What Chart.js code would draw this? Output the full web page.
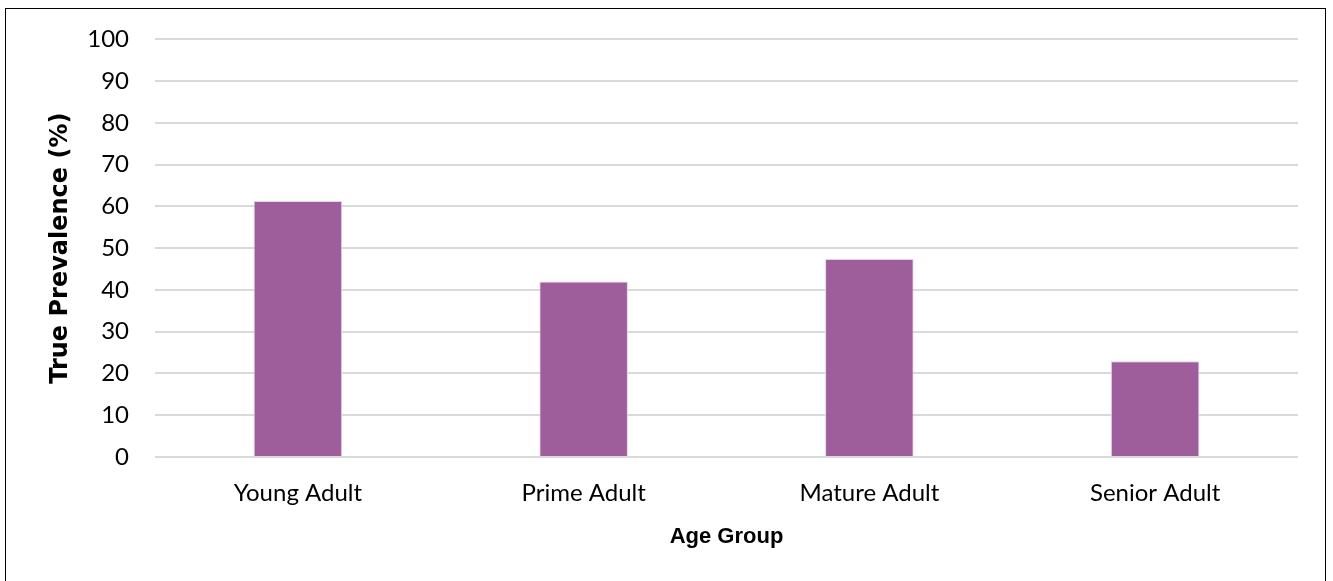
<!DOCTYPE html>
<html>
<head>
<meta charset="utf-8">
<script src="https://cdn.jsdelivr.net/npm/chart.js@4/dist/chart.umd.min.js"></script>
<style>
  html, body { margin: 0; padding: 0; background: #fff; overflow: hidden; }
  #frame {
    position: absolute; left: 5px; top: 8px; width: 1319px; height: 600px;
    border: 1px solid #000; background: #fff;
  }
  #wrap { position: absolute; left: 0; top: -10px; width: 1319px; height: 583px; }
</style>
</head>
<body>
<div id="frame"><div id="wrap"><canvas id="chart"></canvas></div></div>
<script>
// ─── data ────────────────────────────────────────────────────────────────────
const AGE_GROUPS = ['Young Adult', 'Prime Adult', 'Mature Adult', 'Senior Adult'];
const PREVALENCE = [61.3, 42.0, 47.4, 22.9];
const Y_TICKS    = [0, 10, 20, 30, 40, 50, 60, 70, 80, 90, 100];

const STYLE = {
  bar:      '#9e5e9b',
  barEdge:  '#e6d3e5',
  grid:     '#d9d9d9',
  text:     '#000000',
  tickFont: 'Lato, "Noto Sans", sans-serif',
  titleFont:'"Liberation Sans", Arial, sans-serif',
  yTitleFont:'"DejaVu Sans", sans-serif',
};

const ctx = document.getElementById('chart').getContext('2d');

new Chart(ctx, {
  type: 'bar',
  data: {
    labels: AGE_GROUPS,
    datasets: [{
      label: 'True Prevalence (%)',
      data: PREVALENCE,
      backgroundColor: STYLE.bar,
      borderColor: STYLE.barEdge,
      borderWidth: 1,
      barPercentage: 0.31,
      categoryPercentage: 1,
    }],
  },
  options: {
    responsive: true, maintainAspectRatio: false, animation: false,
    layout: { padding: { top: 0, right: 27, bottom: 0, left: 0 } },
    plugins: { legend: { display: false }, tooltip: { enabled: false } },
    scales: {
      x: {
        grid: { display: false },
        border: { display: false },
        ticks: { color: STYLE.text, padding: 14, font: { family: STYLE.tickFont, size: 24 } },
        title: {
          display: true, text: 'Age Group', color: STYLE.text,
          font: { family: STYLE.titleFont, size: 22, weight: 'bold' },
          padding: { top: 0, bottom: 32 },
        },
        afterFit: s => { s.height = 125; },
      },
      y: {
        min: 0, max: 100,
        afterBuildTicks: s => { s.ticks = Y_TICKS.map(v => ({ value: v })); },
        grid: { color: STYLE.grid, lineWidth: 2, drawTicks: false },
        border: { display: false },
        ticks: { color: STYLE.text, padding: 26, font: { family: STYLE.tickFont, size: 24 } },
        title: {
          display: true, text: 'True Prevalence (%)', color: STYLE.text,
          font: { family: STYLE.yTitleFont, size: 24, weight: 'bold' },
          padding: { top: 40, bottom: 0 },
        },
        afterFit: s => { s.width = 149; },
      },
    },
  },
});
</script>
</body>
</html>
